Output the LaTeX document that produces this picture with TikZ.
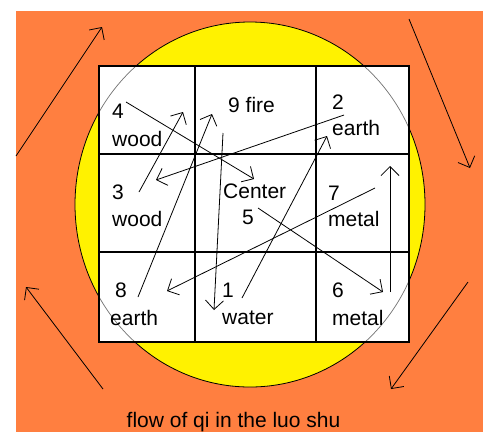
\documentclass[tikz,border=0pt]{standalone}
\usepackage{fontspec}
\setmainfont{Liberation Sans}
\usetikzlibrary{arrows.meta}
\definecolor{luoorange}{RGB}{255,127,64}
\tikzset{
  cell/.style={font=\fontsize{21}{24}\selectfont, inner sep=0pt, anchor=west},
  flow/.style={line width=0.8pt, -{Straight Barb[length=9pt,width=18pt]}}
}
\begin{document}
\begin{tikzpicture}[x=1pt,y=-1pt]
            \useasboundingbox (0,0) rectangle (489,432);
            \fill[luoorange] (16,11) rectangle (483,432);
            \fill[yellow] (250,204.5) ellipse [x radius=175pt, y radius=182.5pt];
            \draw[line width=0.8pt] (250,204.5) ellipse [x radius=175pt, y radius=182.5pt];

            % the square of nine
            \fill[white] (99,66) rectangle (409,342);
            \begin{scope}
                \clip (99,66) rectangle (409,342);
                \draw[black!55, line width=0.7pt] (250,204.5) ellipse [x radius=175pt, y radius=182.5pt];
            \end{scope}
            \draw[line width=1.5pt] (99,66) rectangle (409,342);
            \draw[line width=1.5pt] (195,66) -- (195,342);
            \draw[line width=1.5pt] (316,66) -- (316,342);
            \draw[line width=1.5pt] (99,154) -- (409,154);
            \draw[line width=1.5pt] (99,252) -- (409,252);

            \node[cell] (n4) at (112,111) {4};
            \node[cell] (e4) at (112,139) {wood};
            \node[cell] (n9) at (228,105) {9 fire};
            \node[cell] (n2) at (332,102) {2};
            \node[cell] (e2) at (332,128) {earth};
            \node[cell] (n3) at (112,192) {3};
            \node[cell] (e3) at (112,219) {wood};
            \node[cell] (e5) at (223,191) {Center};
            \node[cell] (n5) at (242,217) {5};
            \node[cell] (n7) at (328,193) {7};
            \node[cell] (e7) at (328,219) {metal};
            \node[cell] (n8) at (115,290) {8};
            \node[cell] (e8) at (110,318) {earth};
            \node[cell] (n1) at (222,290) {1};
            \node[cell] (e1) at (222,318) {water};
            \node[cell] (n6) at (332,290) {6};
            \node[cell] (e6) at (332,318) {metal};

            % flow inside the square
            \coordinate (p1) at (242,298);
            \coordinate (q2) at (327,136);
            \coordinate (p2) at (344,115);
            \coordinate (q3) at (156,180);
            \coordinate (p3) at (139,192);
            \coordinate (q4) at (183,112);
            \coordinate (p4) at (126,102);
            \coordinate (q5) at (254,179);
            \coordinate (p5) at (258,208);
            \coordinate (q6) at (383,292);
            \coordinate (p6) at (390,292);
            \coordinate (q7) at (390,166);
            \coordinate (p7) at (375,188);
            \coordinate (q8) at (167,291);
            \coordinate (p8) at (138,297);
            \coordinate (q9) at (212,114);
            \coordinate (p9) at (223,133);
            \coordinate (q1) at (214,310);

            \draw[flow] (p1) -- (q2);
            \draw[flow] (p2) -- (q3);
            \draw[flow] (p3) -- (q4);
            \draw[flow] (p4) -- (q5);
            \draw[flow] (p5) -- (q6);
            \draw[flow] (p6) -- (q7);
            \draw[flow] (p7) -- (q8);
            \draw[flow] (p8) -- (q9);
            \draw[flow] (p9) -- (q1);

            % flow round the circle
            \coordinate (a1) at (16,156);
            \coordinate (b1) at (102,27);
            \coordinate (a2) at (409,19);
            \coordinate (b2) at (470,168);
            \coordinate (a3) at (468,282);
            \coordinate (b3) at (391,389);
            \coordinate (a4) at (103,389);
            \coordinate (b4) at (26,287);
            \draw[flow] (a1) -- (b1);
            \draw[flow] (a2) -- (b2);
            \draw[flow] (a3) -- (b3);
            \draw[flow] (a4) -- (b4);

            \node[cell, anchor=base] (cap) at (233.5,427) {flow of qi in the luo shu};
        \end{tikzpicture}
\end{document}
